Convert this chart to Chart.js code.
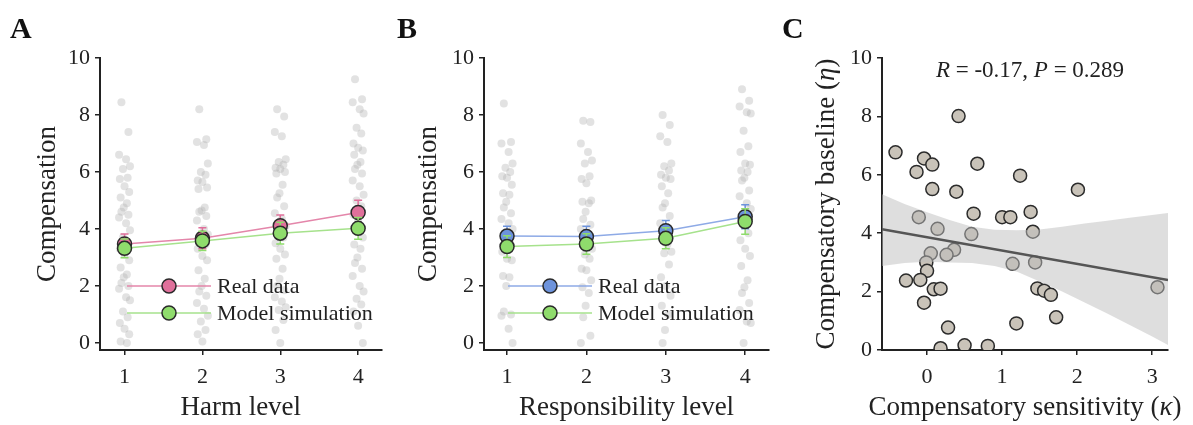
<!DOCTYPE html>
<html>
<head>
<meta charset="utf-8">
<script src="https://cdn.jsdelivr.net/npm/chart.js@4.4.1/dist/chart.umd.min.js"></script>
<style>
body { margin: 0; background: #fff; }
#fig { position: relative; width: 1193px; height: 425px; overflow: hidden; background: #fff; }
canvas { position: absolute; top: 0; }
.lab { position: absolute; top: 13px; font: bold 30px "Liberation Serif"; line-height: 1; color: #111; }
</style>
</head>
<body>
<div id="fig">
  <canvas id="panelA" width="390" height="425" style="left:0px"></canvas>
  <canvas id="panelB" width="390" height="425" style="left:390px"></canvas>
  <canvas id="panelC" width="413" height="425" style="left:780px"></canvas>
  <div class="lab" style="left:10px">A</div>
  <div class="lab" style="left:397px">B</div>
  <div class="lab" style="left:782px">C</div>
</div>
<script>
// levels on the x axis of A and B
var levels = [1, 2, 3, 4];
var levelTicks = [1, 2, 3, 4];
var compTicks = [0, 2, 4, 6, 8, 10];

// group means and error bars
var harmReal = [3.47, 3.67, 4.11, 4.58];
var harmRealErr = [0.35, 0.37, 0.38, 0.43];
var harmModel = [3.32, 3.58, 3.85, 4.02];
var harmModelErr = [0.33, 0.34, 0.38, 0.38];

var respReal = [3.75, 3.73, 3.94, 4.43];
var respRealErr = [0.34, 0.36, 0.36, 0.42];
var respModel = [3.38, 3.47, 3.67, 4.26];
var respModelErr = [0.38, 0.36, 0.37, 0.45];

// single subjects (grey dots)
var harmL1 = [8.45, 7.4, 6.6, 6.45, 6.2, 6.1, 5.8, 5.75, 5.5, 5.3, 5.1, 4.9, 4.75, 4.6, 4.5, 4.4, 4.2, 3.95, 3.7, 3.5, 3.3, 3.1, 2.9, 2.65, 2.4, 2.3, 2.1, 2.0, 1.9, 1.6, 1.5, 1.1, 0.9, 0.7, 0.5, 0.3, 0.05, 0.0];
var harmL2 = [8.2, 7.15, 7.05, 6.95, 6.3, 6.0, 5.9, 5.7, 5.65, 5.45, 5.4, 4.75, 4.65, 4.6, 4.45, 4.3, 4.0, 3.8, 3.6, 3.45, 3.3, 3.05, 2.9, 2.55, 2.25, 2.0, 1.8, 1.65, 1.4, 1.2, 0.95, 0.75, 0.45, 0.3, 0.05];
var harmL3 = [8.2, 7.95, 7.4, 7.25, 6.45, 6.35, 6.25, 6.15, 6.1, 6.0, 5.95, 5.55, 5.25, 5.1, 4.8, 4.55, 4.35, 4.1, 3.9, 3.7, 3.5, 3.3, 3.1, 2.95, 2.6, 2.25, 2.0, 1.85, 1.6, 1.45, 1.25, 1.15, 0.8, 0.45, 0.0];
var harmL4 = [9.25, 8.55, 8.45, 8.2, 8.05, 7.55, 7.35, 7.0, 6.85, 6.75, 6.6, 6.35, 6.25, 6.1, 5.95, 5.7, 5.5, 5.2, 5.0, 4.8, 4.5, 4.3, 3.7, 3.45, 3.3, 3.0, 2.8, 2.6, 2.35, 2.0, 1.8, 1.55, 1.35, 1.1, 0.6, 0.0];

var respL1 = [8.4, 7.05, 7.0, 6.7, 6.3, 6.15, 6.0, 5.85, 5.8, 5.55, 5.25, 5.2, 4.95, 4.75, 4.55, 4.35, 4.2, 4.0, 3.8, 3.5, 3.2, 2.95, 2.9, 2.35, 2.3, 2.0, 1.1, 1.0, 0.95, 0.5, 0.0];
var respL2 = [7.8, 7.75, 7.0, 6.7, 6.4, 6.3, 5.85, 5.75, 5.6, 5.0, 4.95, 4.9, 4.6, 4.35, 4.15, 4.0, 3.6, 3.3, 3.1, 2.95, 2.6, 2.55, 2.2, 1.95, 1.75, 1.3, 0.9, 0.25, 0.0];
var respL3 = [8.0, 7.65, 7.25, 7.05, 6.3, 6.2, 6.05, 5.9, 5.8, 5.75, 5.5, 5.25, 4.9, 4.75, 4.45, 4.2, 3.45, 3.2, 3.15, 2.75, 2.3, 2.0, 1.65, 1.3, 1.0, 0.45, 0.0];
var respL4 = [8.9, 8.5, 8.3, 8.1, 8.05, 7.45, 6.9, 6.7, 6.3, 6.25, 6.05, 6.0, 5.8, 5.7, 5.35, 5.15, 4.9, 4.7, 4.5, 3.85, 3.6, 3.3, 3.05, 2.7, 2.2, 1.95, 1.75, 1.4, 1.15, 0.75, 0.7, 0.0];

// horizontal spread of the grey dots around each level
var jitter = [-0.04, 0.05, -0.07, 0.02, 0.07, -0.02, 0.04, -0.06, 0.0, 0.06, -0.05, 0.03, -0.01];

// panel C: kappa vs eta per subject
var kappa = [-0.42, -0.04, 0.07, -0.14, 0.07, 0.42, 0.39, 0.67, 1.24, 2.01, -0.11, 0.14, 0.62, 0.59, 1.0, 1.11, 1.38, 1.41, 0.05, -0.01, 0.0, 0.36, 0.26, -0.28, -0.09, 0.09, 0.18, -0.04, 1.14, 1.44, 1.47, 1.56, 1.65, 1.72, 1.19, 0.28, 0.18, 0.5, 0.81, 3.07];
var eta = [6.77, 6.56, 6.35, 6.1, 5.51, 8.01, 5.42, 6.38, 5.97, 5.49, 4.55, 4.15, 4.67, 3.97, 4.55, 4.55, 4.73, 4.05, 3.31, 3.0, 2.71, 3.43, 3.26, 2.38, 2.4, 2.08, 2.1, 1.62, 2.95, 3.0, 2.11, 2.03, 1.89, 1.12, 0.91, 0.77, 0.06, 0.16, 0.14, 2.15];
var fitX = [-0.6, 3.21];
var fitY = [4.14, 2.4];
var bandX = [-0.6, -0.3, 0, 0.3, 0.6, 0.9, 1.2, 1.5, 1.8, 2.1, 2.4, 2.7, 3.0, 3.21];
var bandUpper = [5.33, 5.0, 4.72, 4.45, 4.22, 4.12, 4.1, 4.13, 4.22, 4.33, 4.43, 4.53, 4.62, 4.69];
var bandLower = [2.88, 2.98, 3.02, 3.0, 2.98, 2.88, 2.68, 2.35, 2.0, 1.63, 1.25, 0.86, 0.46, 0.17];
var kappaTicks = [0, 1, 2, 3];
var etaTicks = [0, 2, 4, 6, 8, 10];

var FONT = '"Liberation Serif"';
var INK = '#222';

function pts(xs, ys) {
    return xs.map(function (x, i) { return {x: x, y: ys[i]}; });
}

function dots(cols) {
    var out = [];
    cols.forEach(function (col, k) {
        col.forEach(function (v, i) {
            out.push({x: levels[k] + jitter[i % jitter.length], y: v});
        });
    });
    return out;
}

// error bars drawn right before the dataset they belong to
var errorBars = {
    id: 'errorBars',
    beforeDatasetDraw: function (chart, args, opts) {
        (opts.sets || []).forEach(function (s) {
            if (s.dataset !== args.index) return;
            var ctx = chart.ctx, xs = chart.scales.x, ys = chart.scales.y;
            ctx.save();
            ctx.strokeStyle = s.color;
            ctx.lineWidth = 1.5;
            s.means.forEach(function (m, i) {
                var x = xs.getPixelForValue(levels[i]);
                var y1 = ys.getPixelForValue(m + s.err[i]);
                var y2 = ys.getPixelForValue(m - s.err[i]);
                ctx.beginPath();
                ctx.moveTo(x, y1); ctx.lineTo(x, y2);
                ctx.moveTo(x - 4, y1); ctx.lineTo(x + 4, y1);
                ctx.moveTo(x - 4, y2); ctx.lineTo(x + 4, y2);
                ctx.stroke();
            });
            ctx.restore();
        });
    }
};

// legend sitting inside the plot area
var inLegend = {
    id: 'inLegend',
    afterDraw: function (chart, args, opts) {
        if (!opts.items) return;
        var ctx = chart.ctx, a = chart.chartArea;
        ctx.save();
        opts.items.forEach(function (it, i) {
            var x0 = a.left + opts.left, y = a.top + opts.top + i * 27;
            ctx.strokeStyle = it.line;
            ctx.lineWidth = 1.5;
            ctx.beginPath(); ctx.moveTo(x0, y); ctx.lineTo(x0 + 84, y); ctx.stroke();
            ctx.beginPath(); ctx.arc(x0 + 42, y, 7, 0, Math.PI * 2);
            ctx.fillStyle = it.fill; ctx.fill();
            ctx.strokeStyle = '#2a2a2a'; ctx.lineWidth = 1.5; ctx.stroke();
            ctx.fillStyle = INK;
            ctx.font = '22px ' + FONT;
            ctx.textBaseline = 'middle';
            ctx.textAlign = 'left';
            ctx.fillText(it.label, x0 + 90, y + 1);
        });
        ctx.restore();
    }
};

function axisX(min, max, ticks, title) {
    return {
        type: 'linear', min: min, max: max,
        afterBuildTicks: function (s) { s.ticks = ticks.map(function (v) { return {value: v}; }); },
        afterFit: function (s) { s.height = 75; },
        grid: {display: true, drawOnChartArea: false, drawTicks: true, tickLength: 5, color: INK, lineWidth: 1.5},
        border: {display: true, color: INK, width: 2},
        ticks: {color: INK, font: {family: FONT, size: 22}, padding: 9, maxRotation: 0},
        title: {display: !!title, text: title, color: INK, font: {family: FONT, size: 27}, padding: {top: 4, bottom: 1}}
    };
}

function axisY(min, max, ticks, width, title) {
    return {
        type: 'linear', min: min, max: max,
        afterBuildTicks: function (s) { s.ticks = ticks.map(function (v) { return {value: v}; }); },
        afterFit: function (s) { s.width = width; },
        grid: {display: true, drawOnChartArea: false, drawTicks: true, tickLength: 5, color: INK, lineWidth: 1.5},
        border: {display: true, color: INK, width: 2},
        ticks: {color: INK, font: {family: FONT, size: 22}, padding: 5},
        title: {display: !!title, text: title, color: INK, font: {family: FONT, size: 27}, padding: {top: 5, bottom: 4}}
    };
}

function compChart(id, p) {
    var green = '#8fdc6c', greenLine = '#a6e28c';
    new Chart(document.getElementById(id), {
        type: 'scatter',
        data: {
            datasets: [
                {
                    data: pts(levels, p.model), showLine: true,
                    borderColor: greenLine, borderWidth: 1.5,
                    pointRadius: 7, pointBackgroundColor: green,
                    pointBorderColor: '#2a2a2a', pointBorderWidth: 1.5
                },
                {
                    data: pts(levels, p.real), showLine: true,
                    borderColor: p.line, borderWidth: 1.5,
                    pointRadius: 7, pointBackgroundColor: p.fill,
                    pointBorderColor: '#2a2a2a', pointBorderWidth: 1.5
                },
                {
                    data: dots(p.cols),
                    pointRadius: 4, pointBorderWidth: 0,
                    pointBackgroundColor: 'rgba(175,175,175,0.36)'
                }
            ]
        },
        options: {
            responsive: false, animation: false, events: [],
            layout: {padding: {left: p.padLeft, right: p.padRight, top: 58, bottom: 0}},
            scales: {
                x: axisX(p.xMin, 4.3, levelTicks, p.xTitle),
                y: axisY(-0.25, 10, compTicks, p.yWidth, 'Compensation')
            },
            plugins: {
                legend: {display: false}, tooltip: {enabled: false},
                errorBars: {sets: [
                    {dataset: 1, means: p.real, err: p.realErr, color: p.fill},
                    {dataset: 0, means: p.model, err: p.modelErr, color: green}
                ]},
                inLegend: {left: p.legLeft, top: 228, items: [
                    {label: 'Real data', line: p.line, fill: p.fill},
                    {label: 'Model simulation', line: greenLine, fill: green}
                ]}
            }
        },
        plugins: [errorBars, inLegend]
    });
}

compChart('panelA', {
    real: harmReal, realErr: harmRealErr, model: harmModel, modelErr: harmModelErr,
    cols: [harmL1, harmL2, harmL3, harmL4],
    fill: '#e0709b', line: '#e486aa',
    xMin: 0.685, xTitle: 'Harm level',
    padLeft: 27, yWidth: 73, padRight: 3, legLeft: 27
});

compChart('panelB', {
    real: respReal, realErr: respRealErr, model: respModel, modelErr: respModelErr,
    cols: [respL1, respL2, respL3, respL4],
    fill: '#6d93dc', line: '#8eaae6',
    xMin: 0.71, xTitle: 'Responsibility level',
    padLeft: 18, yWidth: 76, padRight: 11, legLeft: 24
});

function drawMixed(ctx, parts, x, y, size) {
    var total = 0;
    parts.forEach(function (p) {
        ctx.font = (p[1] ? 'italic ' : '') + size + 'px ' + FONT;
        p.w = ctx.measureText(p[0]).width;
        total += p.w;
    });
    var cx = x - total / 2;
    parts.forEach(function (p) {
        ctx.font = (p[1] ? 'italic ' : '') + size + 'px ' + FONT;
        ctx.fillText(p[0], cx, y);
        cx += p.w;
    });
}

var cTexts = {
    id: 'cTexts',
    afterDraw: function (chart) {
        var ctx = chart.ctx, a = chart.chartArea;
        ctx.save();
        ctx.fillStyle = INK;
        ctx.textAlign = 'left';
        ctx.textBaseline = 'alphabetic';
        drawMixed(ctx, [['R', true], [' = -0.17, ', false], ['P', true], [' = 0.289', false]], 250, 77, 23);
        ctx.textBaseline = 'middle';
        drawMixed(ctx, [['Compensatory sensitivity (', false], ['\u03ba', true], [')', false]], (a.left + a.right) / 2, 408, 27);
        ctx.translate(47, (a.top + a.bottom) / 2);
        ctx.rotate(-Math.PI / 2);
        drawMixed(ctx, [['Compensatory baseline (', false], ['\u03b7', true], [')', false]], 0, 0, 27);
        ctx.restore();
    }
};

new Chart(document.getElementById('panelC'), {
    type: 'scatter',
    data: {
        datasets: [
            {
                data: pts(fitX, fitY), showLine: true,
                borderColor: '#555', borderWidth: 2.5, pointRadius: 0
            },
            {
                data: pts(bandX, bandUpper), showLine: true, fill: '+1',
                backgroundColor: 'rgba(190,190,190,0.5)', borderWidth: 0, pointRadius: 0
            },
            {
                data: pts(bandX, bandLower), showLine: true,
                borderWidth: 0, pointRadius: 0
            },
            {
                data: pts(kappa, eta), clip: 0,
                pointRadius: 6.5, pointBackgroundColor: '#c9c3b9',
                pointBorderColor: '#2b2b2b', pointBorderWidth: 1.5
            }
        ]
    },
    options: {
        responsive: false, animation: false, events: [],
        layout: {padding: {left: 0, right: 25, top: 58, bottom: 0}},
        scales: {
            x: axisX(-0.6, 3.21, kappaTicks, ''),
            y: axisY(0, 10, etaTicks, 102, '')
        },
        plugins: {legend: {display: false}, tooltip: {enabled: false}}
    },
    plugins: [cTexts]
});
</script>
</body>
</html>
